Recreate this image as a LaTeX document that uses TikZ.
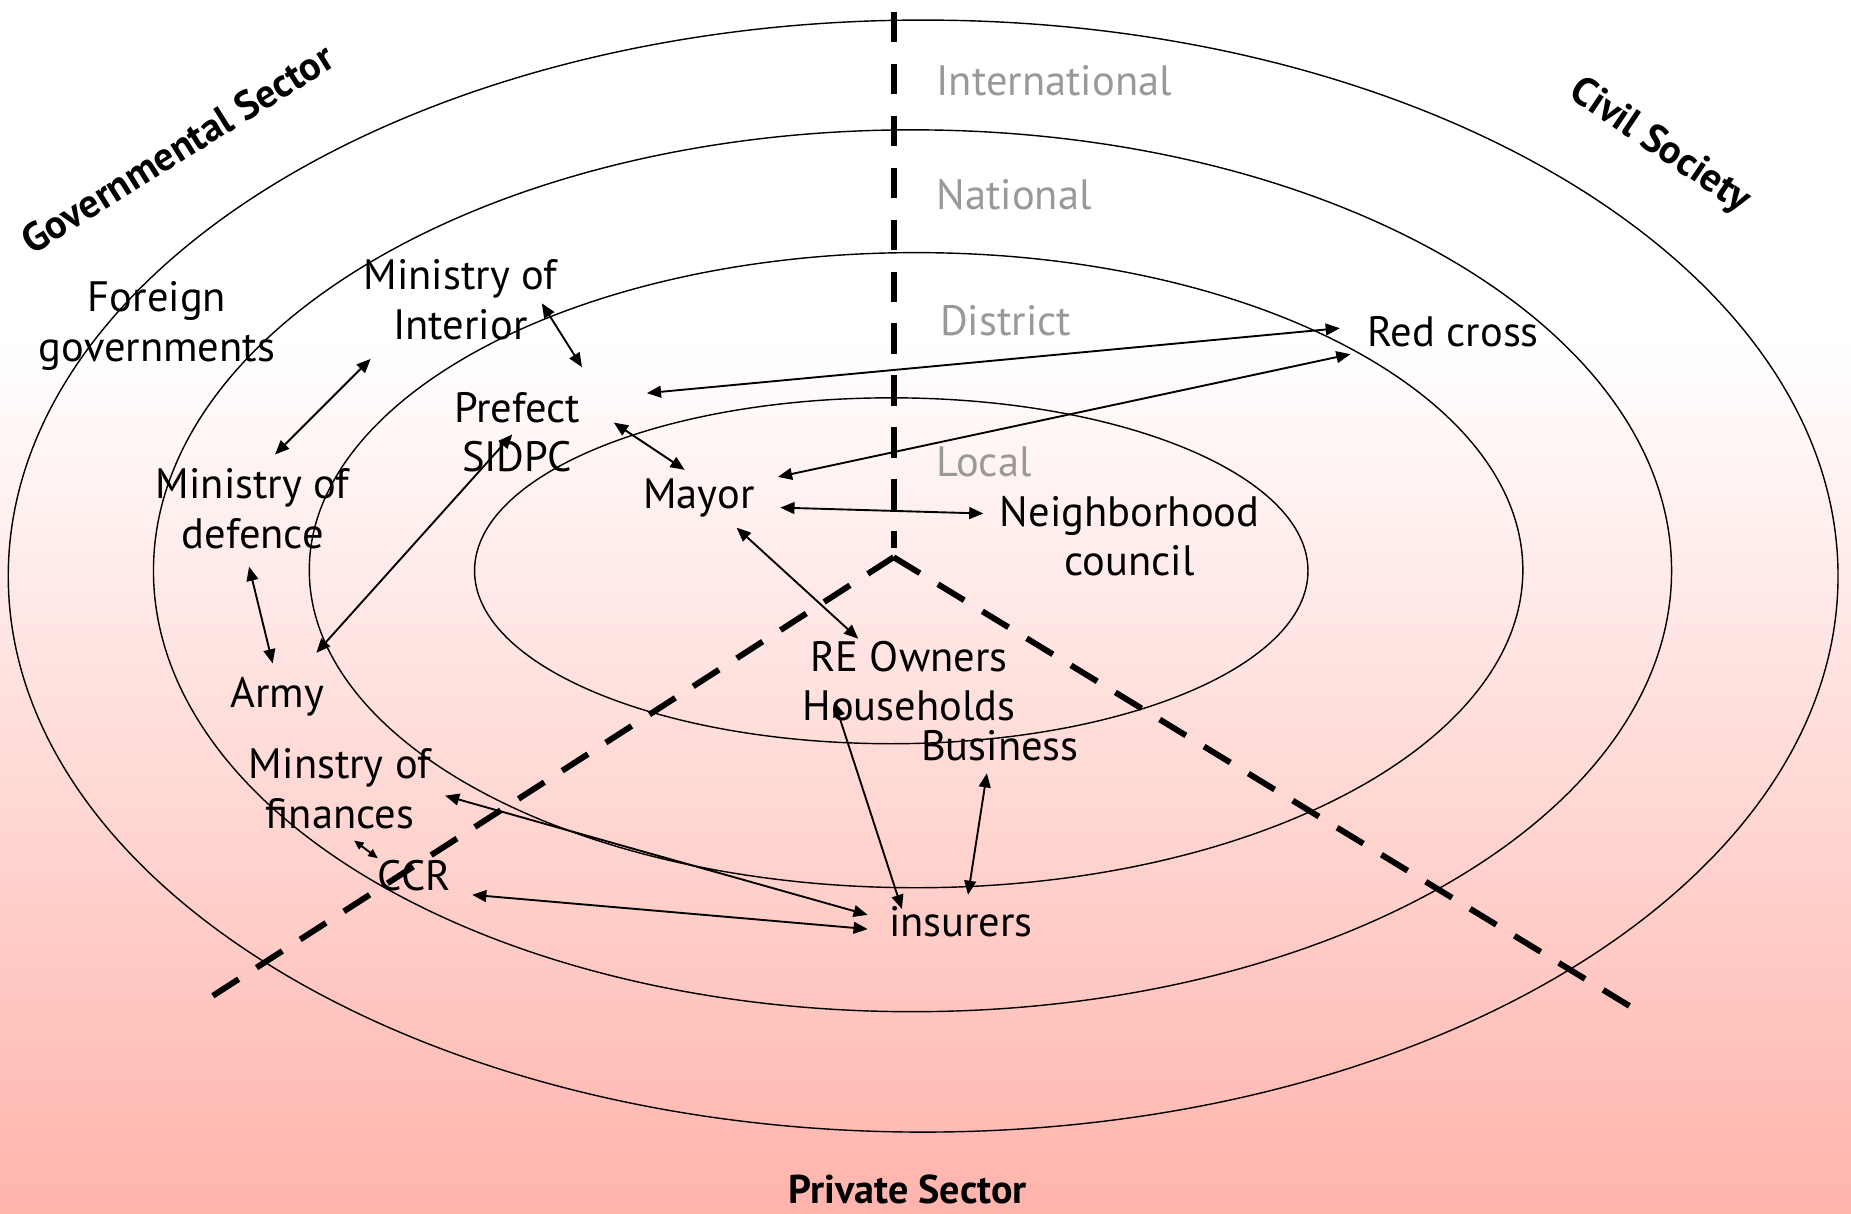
\documentclass[tikz,border=0pt]{standalone}
\usepackage{fontspec}
\setmainfont{PT Sans}
\usetikzlibrary{arrows.meta,calc}

\definecolor{levelgray}{RGB}{153,153,153}
\definecolor{bgpink}{RGB}{255,180,172}
\pgfdeclareverticalshading{bgfade}{100bp}{color(0bp)=(bgpink); color(25bp)=(bgpink); color(61bp)=(white); color(75bp)=(white); color(100bp)=(white)}

\tikzset{
  actor/.style={align=center, inner sep=0pt, font=\fontsize{18}{21}\selectfont},
  level/.style={anchor=west, inner sep=0pt, text=levelgray, font=\fontsize{18}{21}\selectfont},
  sector/.style={inner sep=0pt, font=\bfseries\fontsize{17}{20}\selectfont},
  ring/.style={line width=0.6pt},
  divider/.style={line width=2.5pt, dash pattern=on 13pt off 9pt},
  link/.style={{Triangle[length=6pt,width=5pt]}-{Triangle[length=6pt,width=5pt]}, line width=0.8pt},
  shortlink/.style={{Triangle[length=4pt,width=3.5pt]}-{Triangle[length=4pt,width=3.5pt]}, line width=0.8pt},
}

\begin{document}
\begin{tikzpicture}[x=0.5pt,y=0.5pt,yscale=-1,xscale=1]
\useasboundingbox (0,0) rectangle (1568,1028);

%Shape: Rectangle [background]
\shade[shading=bgfade] (0,0) rectangle (1568,1028);

%Shape: Ellipse [International]
\draw[ring] (782,488) ellipse [x radius=775, y radius=471];
%Shape: Ellipse [National]
\draw[ring] (773,483.5) ellipse [x radius=643, y radius=373.5];
%Shape: Ellipse [District]
\draw[ring] (776,483) ellipse [x radius=514, y radius=269];
%Shape: Ellipse [Local]
\draw[ring] (755,483.5) ellipse [x radius=353, y radius=146.5];

%Straight Lines [sector dividers]
\coordinate (apex) at (757,472);
\draw[divider] (757,10) -- (757,464);
\draw[divider] (apex) -- (178,845);
\draw[divider] (apex) -- (1385,855);

% Text Node [sectors]
\node[sector, rotate=32] (gov) at (150,126) {Governmental Sector};
\node[sector, rotate=-34] (civil) at (1406,124) {Civil Society};
\node[sector] (private) at (769,1008) {Private Sector};

% Text Node [levels]
\node[level] (intl) at (793,68) {International};
\node[level] (natl) at (793,165) {National};
\node[level] (dist) at (796,272) {District};
\node[level] (local) at (793,391) {Local};

% Text Node [actors]
\node[actor] (foreign) at (133,276) {Foreign\\governments};
\node[actor] (interior) at (390,254) {Ministry of\\Interior};
\node[actor] (prefect) at (438,366) {Prefect\\SIDPC};
\node[actor] (defence) at (214,431) {Ministry of\\defence};
\node[actor] (army) at (235,590) {Army};
\node[actor] (finances) at (288,668) {Minstry of\\finances};
\node[actor] (ccr) at (351,742) {CCR};
\node[actor] (mayor) at (592,422) {Mayor};
\node[actor] (council) at (957,454) {Neighborhood\\council};
\node[actor] (redcross) at (1231,281) {Red cross};
\node[actor] (owners) at (770,577) {RE Owners\\Households};
\node[actor] (business) at (847,632) {Business};
\node[actor] (insurers) at (814,781) {insurers};

%Straight Lines [relations]
\draw[link] ($(defence)+(19,-46)$) -- ($(interior)+(-76,50)$);
\draw[link] ($(interior)+(69,3)$) -- ($(prefect)+(55,-55)$);
\draw[link] ($(defence)+(-3,49)$) -- ($(army)+(-4,-28)$);
\draw[link] ($(army)+(33,-37)$) -- ($(prefect)+(-4,2)$);
\draw[link] ($(prefect)+(82,-8)$) -- ($(mayor)+(-12,-24)$);
\draw[link] ($(prefect)+(110,-33)$) -- ($(redcross)+(-96,-3)$);
\draw[link] ($(mayor)+(67,-18)$) -- ($(redcross)+(-87,19)$);
\draw[link] ($(mayor)+(69,8)$) -- ($(council)+(-124,-19)$);
\draw[link] ($(mayor)+(32,25)$) -- ($(owners)+(-43,-36)$);
\draw[link] ($(owners)+(-63,18)$) -- ($(insurers)+(-50,-11)$);
\draw[link] ($(business)+(-11,23)$) -- ($(insurers)+(6,-23)$);
\draw[link] ($(finances)+(89,6)$) -- ($(insurers)+(-79,-6)$);
\draw[shortlink] ($(finances)+(12,44)$) -- ($(ccr)+(-31,-15)$);
\draw[link] ($(ccr)+(49,16)$) -- ($(insurers)+(-79,6)$);

\end{tikzpicture}
\end{document}
